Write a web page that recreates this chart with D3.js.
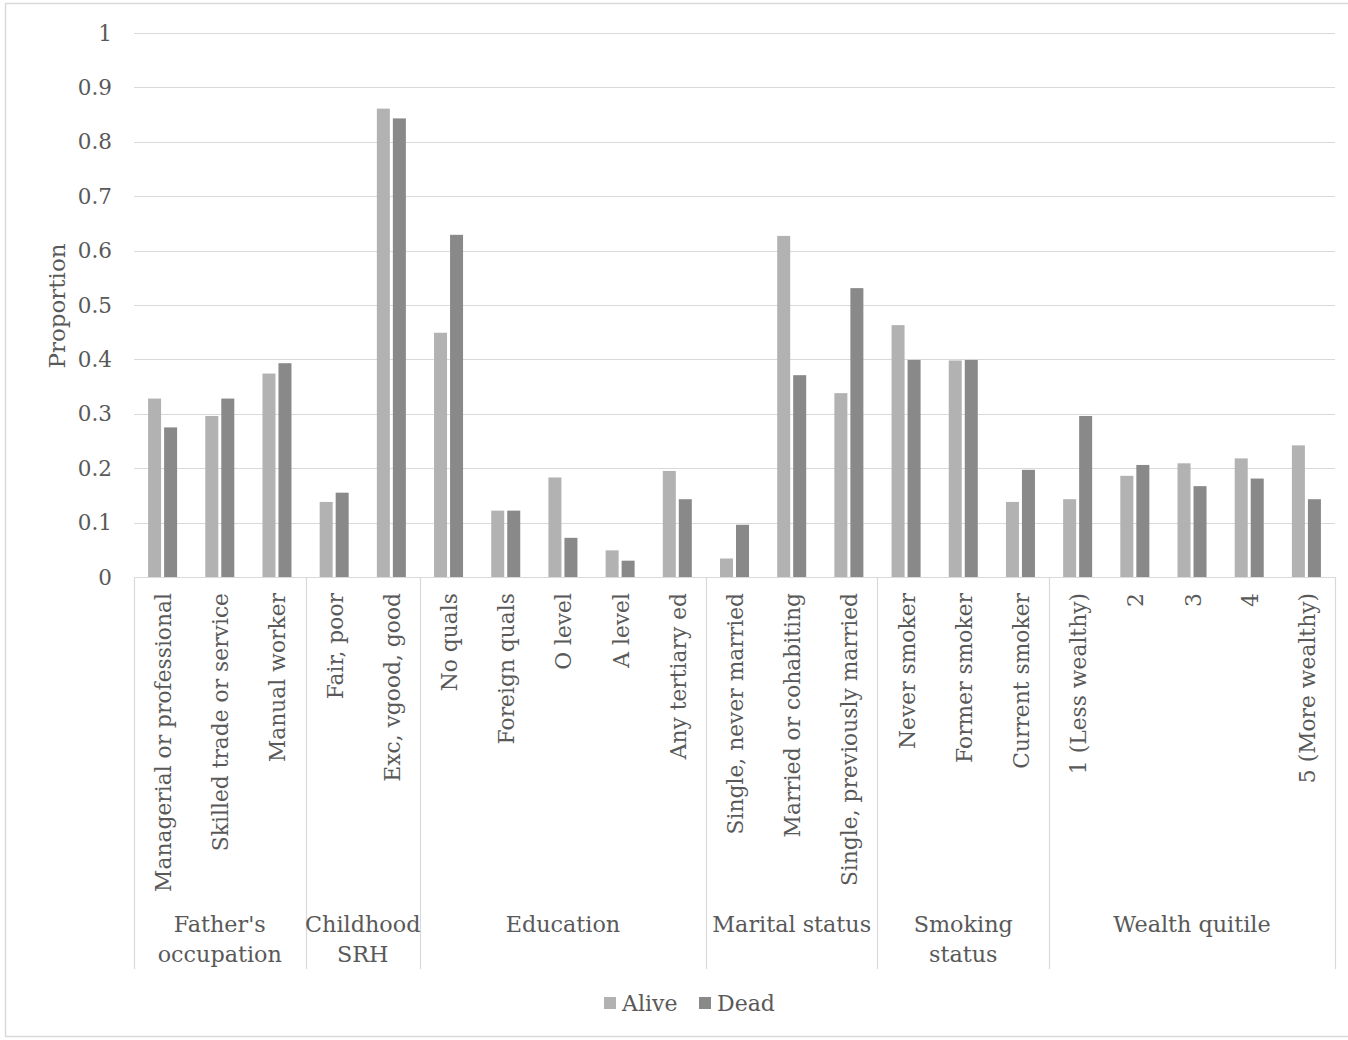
<!DOCTYPE html>
<html>
<head>
<meta charset="utf-8">
<script src="https://cdn.jsdelivr.net/npm/d3@7"></script>
<style>
  html, body { margin: 0; padding: 0; background: #fff; }
  svg { display: block; }
  text { font-family: "DejaVu Serif", "Liberation Serif", serif; fill: #595959; }
</style>
</head>
<body>
<svg id="chart" width="1348" height="1040"></svg>
<script>
// ---- Data ----
const categories = [
  "Managerial or professional", "Skilled trade or service", "Manual worker",
  "Fair, poor", "Exc, vgood, good",
  "No quals", "Foreign quals", "O level", "A level", "Any tertiary ed",
  "Single, never married", "Married or cohabiting", "Single, previously married",
  "Never smoker", "Former smoker", "Current smoker",
  "1 (Less wealthy)", "2", "3", "4", "5 (More wealthy)"
];
const groupNames = [
  ["Father's", "occupation"],
  ["Childhood", "SRH"],
  ["Education"],
  ["Marital status"],
  ["Smoking", "status"],
  ["Wealth quitile"]
];
const groupSizes = [3, 2, 5, 3, 3, 5];
const seriesNames = ["Alive", "Dead"];
const aliveValues = [0.328, 0.296, 0.374, 0.138, 0.861, 0.449, 0.122, 0.183, 0.049, 0.195,
                     0.034, 0.627, 0.338, 0.463, 0.398, 0.138, 0.143, 0.186, 0.209, 0.218, 0.242];
const deadValues  = [0.275, 0.328, 0.393, 0.155, 0.843, 0.629, 0.122, 0.072, 0.030, 0.143,
                     0.096, 0.371, 0.531, 0.399, 0.399, 0.197, 0.296, 0.206, 0.167, 0.181, 0.143];
const yTicks = [0, 0.1, 0.2, 0.3, 0.4, 0.5, 0.6, 0.7, 0.8, 0.9, 1];
const yTickLabels = ["0", "0.1", "0.2", "0.3", "0.4", "0.5", "0.6", "0.7", "0.8", "0.9", "1"];
const yTitle = "Proportion";

// ---- Layout ----
const colors = { Alive: "#b2b2b2", Dead: "#898989" };
const plot = { left: 134, right: 1335, top: 33, bottom: 577 };
const svg = d3.select("#chart");

// chart border
svg.append("rect").attr("x", 5.5).attr("y", 3.5).attr("width", 1350).attr("height", 1033)
  .attr("fill", "none").attr("stroke", "#d9d9d9").attr("stroke-width", 1.5);

const x0 = d3.scaleBand().domain(categories).range([plot.left, plot.right]).paddingInner(0).paddingOuter(0);
const x1 = d3.scaleBand().domain(seriesNames).range([0, x0.bandwidth()]).paddingInner(0.1875).paddingOuter(0.88);
const y = d3.scaleLinear().domain([0, 1]).range([plot.bottom, plot.top]);

// gridlines
svg.append("g").selectAll("line").data(yTicks).join("line")
  .attr("x1", plot.left).attr("x2", plot.right)
  .attr("y1", d => Math.round(y(d)) + 0.5).attr("y2", d => Math.round(y(d)) + 0.5)
  .attr("stroke", "#d9d9d9").attr("stroke-width", 1.2);

// y axis labels
svg.append("g").selectAll("text").data(yTicks).join("text")
  .attr("x", 112).attr("y", d => y(d))
  .attr("text-anchor", "end").attr("dominant-baseline", "central")
  .attr("font-size", 21.5)
  .text((d, i) => yTickLabels[i]);

// y title
svg.append("text")
  .attr("transform", `translate(57,${(plot.top + plot.bottom) / 2 + 1}) rotate(-90)`)
  .attr("text-anchor", "middle").attr("dominant-baseline", "central")
  .attr("font-size", 23).text(yTitle);

// bars
const rows = categories.map((c, i) => ({ cat: c, Alive: aliveValues[i], Dead: deadValues[i] }));
const gBars = svg.append("g");
rows.forEach(r => {
  seriesNames.forEach(s => {
    gBars.append("rect")
      .attr("x", x0(r.cat) + x1(s))
      .attr("y", y(r[s]))
      .attr("width", x1.bandwidth())
      .attr("height", y(0) - y(r[s]))
      .attr("fill", colors[s]);
  });
});

// category labels
svg.append("g").selectAll("text").data(categories).join("text")
  .attr("transform", d => `translate(${x0(d) + x0.bandwidth() / 2 + 1},${593}) rotate(-90)`)
  .attr("text-anchor", "end").attr("dominant-baseline", "central")
  .attr("font-size", 21.8)
  .text(d => d);

// group separators and labels
const bounds = [0];
groupSizes.forEach(n => bounds.push(bounds[bounds.length - 1] + n));
const sepX = bounds.map(b => b < categories.length ? x0(categories[b]) : plot.right);
svg.append("g").selectAll("line").data(sepX).join("line")
  .attr("x1", d => Math.round(d) + 0.5).attr("x2", d => Math.round(d) + 0.5)
  .attr("y1", plot.bottom).attr("y2", 969)
  .attr("stroke", "#d9d9d9").attr("stroke-width", 1.2);

groupNames.forEach((lines, gi) => {
  const cx = (sepX[gi] + sepX[gi + 1]) / 2;
  const t = svg.append("text").attr("text-anchor", "middle").attr("font-size", 22.3);
  lines.forEach((ln, li) => {
    t.append("tspan").attr("x", cx).attr("y", 924 + li * 30).attr("dominant-baseline", "central").text(ln);
  });
});

// legend
const legend = svg.append("g");
const legendItems = [{ name: "Alive", x: 604 }, { name: "Dead", x: 699 }];
legendItems.forEach(it => {
  legend.append("rect").attr("x", it.x).attr("y", 997).attr("width", 12).attr("height", 12).attr("fill", colors[it.name]);
  legend.append("text").attr("x", it.x + 18).attr("y", 1003).attr("dominant-baseline", "central")
    .attr("font-size", 22).text(it.name);
});
</script>
</body>
</html>
